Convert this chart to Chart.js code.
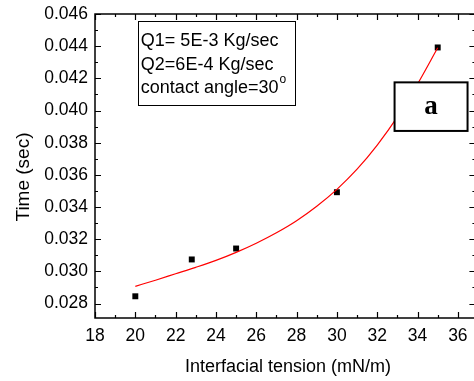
<!DOCTYPE html>
<html>
<head>
<meta charset="utf-8">
<script src="https://cdn.jsdelivr.net/npm/chart.js@4.4.1/dist/chart.umd.min.js"></script>
<style>
  html, body { margin:0; padding:0; background:#fff; overflow:hidden; }
  #wrap { width:474px; height:381px; position:relative; }
</style>
</head>
<body>
<div id="wrap"><canvas id="c"></canvas></div>
<script>
// ====== data ======
const tension  = [20, 22.8, 25, 30, 35];                       // mN/m
const timeSec  = [0.02845, 0.03074, 0.03142, 0.03492, 0.04392]; // sec

// fitted curve (red)
const fitX = [20, 21, 22, 23, 24, 25, 26, 27, 28, 29, 30, 31, 32, 33, 34, 35];
const fitY = [0.02907, 0.02945, 0.02985, 0.03025, 0.03068, 0.03118, 0.03175, 0.03240,
              0.03315, 0.03405, 0.03510, 0.03635, 0.03785, 0.03960, 0.04165, 0.04390];

const xTicks = [18, 20, 22, 24, 26, 28, 30, 32, 34, 36];
const yTicks = [0.028, 0.030, 0.032, 0.034, 0.036, 0.038, 0.040, 0.042, 0.044, 0.046];

const legendLines = ['Q1= 5E-3 Kg/sec', 'Q2=6E-4 Kg/sec', 'contact angle=30'];

const FONT = '"Liberation Sans", Arial, sans-serif';
const X_SPINE = 36.87;   // right spine value, just past the canvas edge

// frame + inward ticks + x labels + axis titles + text boxes
const framePlugin = {
  id: 'frame',
  afterDatasetsDraw(chart){
    const {ctx, chartArea:a, scales:{x, y}} = chart;
    const right = x.getPixelForValue(X_SPINE);
    ctx.save();

    // legend text box
    const lx1 = x.getPixelForValue(20.15), lx2 = x.getPixelForValue(27.95);
    const ly1 = y.getPixelForValue(0.04555), ly2 = y.getPixelForValue(0.04035);
    ctx.fillStyle = '#fff';
    ctx.fillRect(lx1, ly1, lx2-lx1, ly2-ly1);
    ctx.strokeStyle = '#000'; ctx.lineWidth = 1;
    ctx.strokeRect(Math.round(lx1)+0.5, Math.round(ly1)+0.5, Math.round(lx2-lx1), Math.round(ly2-ly1));
    ctx.fillStyle = '#000';
    ctx.font = '18px ' + FONT;
    ctx.textBaseline = 'alphabetic';
    ctx.textAlign = 'left';
    legendLines.forEach((t, i) => ctx.fillText(t, lx1 + 2.5, ly1 + 25 + i*23.5));
    const w3 = ctx.measureText(legendLines[2]).width;
    ctx.font = '12px ' + FONT;
    ctx.fillText('o', lx1 + 2.5 + w3 + 1, ly1 + 25 + 2*23.5 - 10);

    // "a" box
    const ax1 = x.getPixelForValue(32.86), ax2 = x.getPixelForValue(36.48);
    const ay1 = y.getPixelForValue(0.04175), ay2 = y.getPixelForValue(0.03873);
    ctx.fillStyle = '#fff';
    ctx.fillRect(ax1, ay1, ax2-ax1, ay2-ay1);
    ctx.lineWidth = 2;
    ctx.strokeRect(ax1, ay1, ax2-ax1, ay2-ay1);
    ctx.fillStyle = '#000';
    ctx.font = 'bold 27px "Liberation Serif", "Times New Roman", serif';
    ctx.textAlign = 'center'; ctx.textBaseline = 'middle';
    ctx.fillText('a', (ax1+ax2)/2, (ay1+ay2)/2);

    // axis frame
    ctx.strokeStyle = '#000';
    ctx.lineWidth = 1.5;
    ctx.strokeRect(a.left, a.top, right - a.left, a.bottom - a.top);

    // ticks, pointing inward on all four sides
    ctx.lineWidth = 1.2;
    ctx.beginPath();
    const xStep = xTicks[1] - xTicks[0];
    for (let v = x.min; v <= X_SPINE; v += xStep/2){
      const isMajor = Math.abs((v - xTicks[0]) / xStep - Math.round((v - xTicks[0]) / xStep)) < 1e-6;
      const len = isMajor ? 6 : 3;
      const px = Math.round(x.getPixelForValue(v)) + 0.5;
      ctx.moveTo(px, a.bottom); ctx.lineTo(px, a.bottom - len);
      ctx.moveTo(px, a.top);    ctx.lineTo(px, a.top + len);
    }
    const yStep = yTicks[1] - yTicks[0];
    for (let k = -1; k <= (yTicks.length-1)*2; k++){
      const v = yTicks[0] + k*yStep/2;
      if (v < y.min || v > y.max + 1e-9) continue;
      const len = (k % 2 === 0) ? 6 : 3;
      const py = Math.round(y.getPixelForValue(v)) + 0.5;
      ctx.moveTo(a.left, py);  ctx.lineTo(a.left + len, py);
      ctx.moveTo(right, py);   ctx.lineTo(right - len, py);
    }
    ctx.stroke();

    // x tick labels (drawn here so the scale keeps no right-hand label padding)
    ctx.fillStyle = '#000';
    ctx.font = '17.5px ' + FONT;
    ctx.textAlign = 'center'; ctx.textBaseline = 'middle';
    xTicks.forEach(v => ctx.fillText(String(v), x.getPixelForValue(v), a.bottom + 18));

    // axis titles
    ctx.textBaseline = 'alphabetic';
    ctx.font = '18px ' + FONT;
    ctx.fillText('Interfacial tension (mN/m)', 288, 372);
    ctx.font = '19px ' + FONT;
    ctx.translate(29, 177);
    ctx.rotate(-Math.PI/2);
    ctx.fillText('Time (sec)', 0, 0);
    ctx.restore();
  }
};

new Chart(document.getElementById('c').getContext('2d'), {
  type: 'scatter',
  data: {
    datasets: [
      {
        label: 'fit',
        data: fitX.map((v, i) => ({x: v, y: fitY[i]})),
        showLine: true,
        borderColor: '#ff0000',
        borderWidth: 1.2,
        pointRadius: 0,
        cubicInterpolationMode: 'monotone',
        fill: false
      },
      {
        label: 'Time',
        data: tension.map((v, i) => ({x: v, y: timeSec[i]})),
        pointStyle: 'rect',
        pointRadius: 4.2,
        backgroundColor: '#000',
        borderColor: '#000',
        borderWidth: 0
      }
    ]
  },
  options: {
    responsive: true,
    maintainAspectRatio: false,
    animation: false,
    layout: { autoPadding: false, padding: { top: 14, right: 0, left: 0, bottom: 0 } },
    plugins: { legend: { display: false }, tooltip: { enabled: false } },
    scales: {
      x: {
        type: 'linear', min: 18, max: 36.8,
        afterBuildTicks: s => { s.ticks = xTicks.map(v => ({value: v})); },
        afterFit: s => { s.height = 63; s.paddingLeft = 0; s.paddingRight = 0; },
        grid: { display: false, drawTicks: false },
        border: { display: false },
        ticks: { display: false }
      },
      y: {
        type: 'linear', min: 0.0271, max: 0.046,
        afterBuildTicks: s => { s.ticks = yTicks.map(v => ({value: v})); },
        afterFit: s => { s.width = 95; s.paddingTop = 0; s.paddingBottom = 0; },
        grid: { display: false, drawTicks: false },
        border: { display: false },
        ticks: { color: '#000', font: { family: FONT, size: 17.5 }, padding: 7, autoSkip: false,
                 callback: v => Number(v).toFixed(3) }
      }
    }
  },
  plugins: [framePlugin]
});
</script>
</body>
</html>
